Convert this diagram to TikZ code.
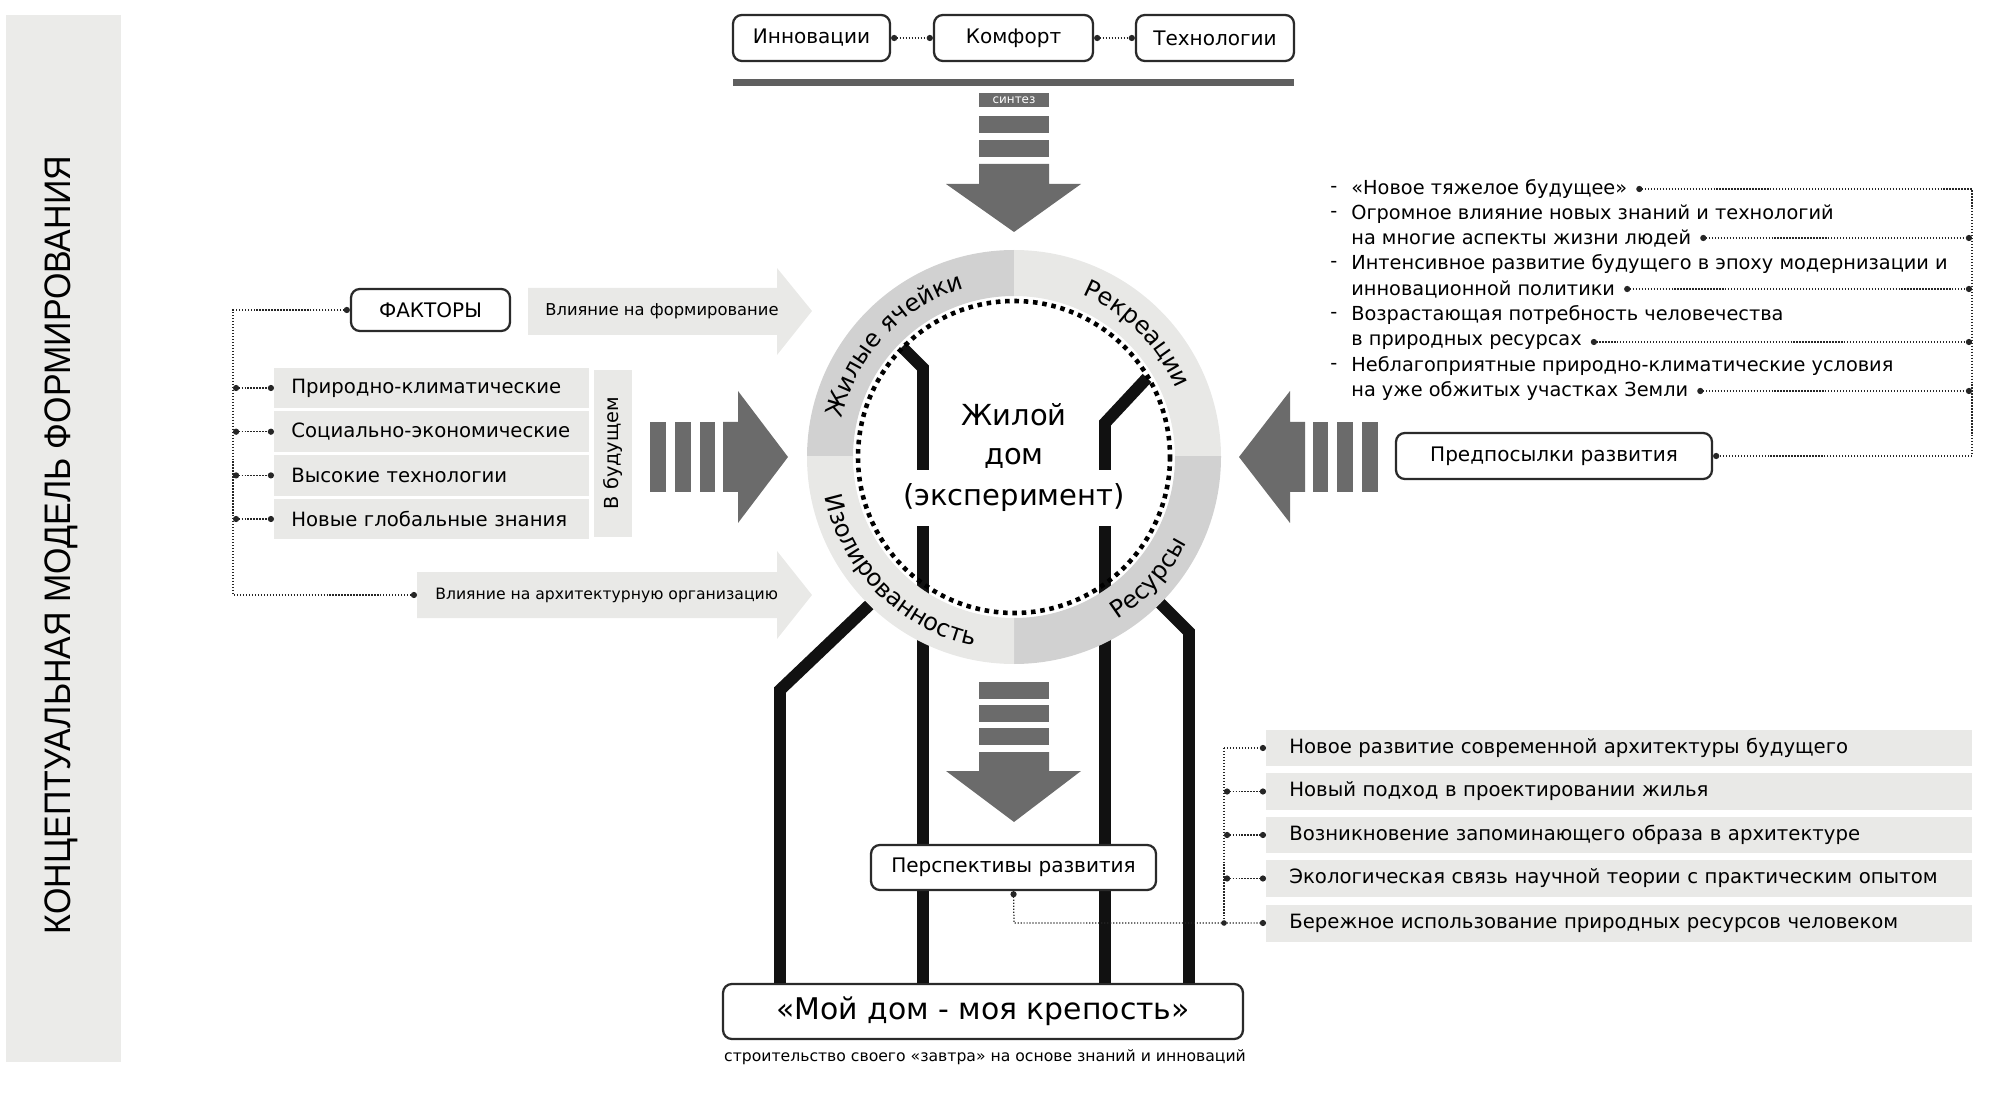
\documentclass[tikz,border=0pt]{standalone}
\usepackage{fontspec}
\setmainfont{DejaVu Sans}
\newfontfamily\narrowfont[FakeStretch=0.92]{Liberation Sans}
\usetikzlibrary{decorations.text,arrows.meta}
\definecolor{sidebg}{HTML}{EBEBE9}
\definecolor{lightbg}{HTML}{E9E9E7}
\definecolor{darkarr}{HTML}{6B6B6B}
\definecolor{topbar}{HTML}{5F5F5F}
\definecolor{ringdark}{HTML}{D1D1D1}
\definecolor{ringlight}{HTML}{E8E8E6}
\definecolor{boxline}{HTML}{2A2A2A}
\definecolor{thickline}{HTML}{111111}
\newcommand\myfs[1]{\fontsize{#1}{#1}\selectfont}
\newcommand\ringf{\myfs{13.7pt}}
\begin{document}
\begin{tikzpicture}[x=0.02cm,y=-0.02cm,
  rbox/.style={draw=boxline, line width=1.3pt, rounded corners=5pt, fill=white, inner sep=0pt, font=\myfs{11.4pt}},
  dotc/.style={draw=black!85, line width=0.7pt, dash pattern=on 0.7pt off 1pt},
  cc/.style={dotc, {Circle[length=3.5pt]}-{Circle[length=3.5pt]}},
  ce/.style={dotc, -{Circle[length=3.5pt]}},
  blk/.style={draw=thickline, line width=6.8pt},
  rowL/.style={fill=lightbg, anchor=west, inner xsep=0.34cm, text width=5.62cm, minimum height=0.82cm, align=left, font=\myfs{11.2pt}},
  rowR/.style={fill=lightbg, anchor=west, inner xsep=0.46cm, text width=13.2cm, minimum height=0.74cm, align=left, font=\myfs{11.2pt}},
  rt/.style={anchor=west, inner sep=0pt, font=\myfs{11pt}},
  ringtext/.style={decorate, decoration={text along path, text align=center, text={|\ringf|#1}}}
]
\useasboundingbox (0,0) rectangle (1999,1111);

% sidebar
\fill[sidebg] (6,15) rectangle (121,1062);
\node[rotate=90, font=\narrowfont\myfs{21pt}] (title) at (61,545) {КОНЦЕПТУАЛЬНАЯ МОДЕЛЬ ФОРМИРОВАНИЯ};

% top boxes
\node[rbox, minimum width=3.14cm, minimum height=0.92cm] (inn) at (811.5,38) {Инновации};
\node[rbox, minimum width=3.18cm, minimum height=0.92cm] (kom) at (1013.5,38) {Комфорт};
\node[rbox, minimum width=3.16cm, minimum height=0.92cm] (tech) at (1215,38) {Технологии};
\draw[cc] (inn.east) -- (kom.west);
\draw[cc] (kom.east) -- (tech.west);
\fill[topbar] (733,79) rectangle (1294,86);

% top arrow
\node[fill=darkarr, text=white, inner sep=0pt, minimum width=1.4cm, minimum height=0.28cm, font=\myfs{6.8pt}] (synt) at (1014,100) {синтез};
\fill[darkarr] (979,116) rectangle (1049,133);
\fill[darkarr] (979,140) rectangle (1049,157);
\fill[darkarr] (979,164) -- (1049,164) -- (1049,184) -- (1081,184) -- (1014,232) -- (946,184) -- (979,184) -- cycle;

% final box and thick black lines (behind ring)
\node[rbox, minimum width=10.4cm, minimum height=1.1cm, font=\myfs{17pt}] (moy) at (983,1011.5) {«Мой дом - моя крепость»};
\node[font=\myfs{8.9pt}, inner sep=0pt] (sub) at (985,1057) {строительство своего «завтра» на основе знаний и инноваций};
\coordinate (li1) at (902,347);
\coordinate (li2) at (1147,378);
\coordinate (lo1) at (885,590);
\coordinate (lo2) at (1150,593);
\draw[blk] (li1) -- (923,368) -- (923,368 |- moy.north);
\draw[blk] (li2) -- (1105,423) -- (1105,423 |- moy.north);
\draw[blk] (lo1) -- (780,690) -- (780,690 |- moy.north);
\draw[blk] (lo2) -- (1189,632) -- (1189,632 |- moy.north);

% ring
\foreach \qx/\qy/\col in {-1/-1/ringdark, 1/-1/ringlight, 1/1/ringdark, -1/1/ringlight}{
  \begin{scope}
    \clip (1014,457) rectangle ++(\qx*215,\qy*215);
    \fill[\col, even odd rule] (1014,457) circle[radius=207] (1014,457) circle[radius=161];
  \end{scope}
}
\draw[line width=2.6pt, dash pattern=on 2.6pt off 2.7pt] (1014,457) circle[radius=156];

\begin{scope}[shift={(1014,457)}, y=0.02cm]
  \path[ringtext={Жилые ячейки}] (182:176) arc (182:92:176);
  \path[ringtext={Рекреации}] (90:176) arc (90:0:176);
  \path[ringtext={Изолированность}] (180:193) arc (180:270:193);
  \path[ringtext={Ресурсы}] (273:193) arc (273:363:193);
\end{scope}

% center text
\node[font=\myfs{16.5pt}] (t1) at (1014,415) {Жилой};
\node[font=\myfs{16.5pt}] (t2) at (1014,458) {дом};
\node[font=\myfs{16.5pt}, fill=white, inner xsep=2pt, minimum height=1.14cm] (t3) at (1014,498) {(эксперимент)};

% bottom arrow
\fill[darkarr] (979,682) rectangle (1049,699);
\fill[darkarr] (979,705) rectangle (1049,722);
\fill[darkarr] (979,728) rectangle (1049,745);
\fill[darkarr] (979,752) -- (1049,752) -- (1049,771) -- (1081,771) -- (1014,822) -- (946,771) -- (979,771) -- cycle;

% perspectives
\node[rbox, minimum width=5.7cm, minimum height=0.9cm] (persp) at (1013.5,867.5) {Перспективы развития};

% left: factors
\fill[lightbg] (528,288) -- (777,288) -- (777,268) -- (812,311) -- (777,355) -- (777,335) -- (528,335) -- cycle;
\node[anchor=west, inner sep=0pt, font=\myfs{9.3pt}] (vf) at (545,311) {Влияние на формирование};
\fill[lightbg] (417,572) -- (777,572) -- (777,551) -- (812,595) -- (777,639) -- (777,618) -- (417,618) -- cycle;
\coordinate (a2s) at (417,595);
\node[anchor=west, inner sep=0pt, font=\myfs{8.9pt}] (va) at (435,595) {Влияние на архитектурную организацию};
\node[rbox, minimum width=3.18cm, minimum height=0.84cm] (fakt) at (430.5,310) {ФАКТОРЫ};

\node[rowL] (f1) at (274,388) {Природно-климатические};
\node[rowL] (f2) at (274,431.7) {Социально-экономические};
\node[rowL] (f3) at (274,475.4) {Высокие технологии};
\node[rowL] (f4) at (274,519) {Новые глобальные знания};
\fill[lightbg] (594,370) rectangle (632,537);
\node[rotate=90, font=\myfs{11pt}] (vb) at (613,453) {В будущем};

\coordinate (lvt) at (233,310);
\coordinate (lvb) at (233,595);
\draw[cc] (fakt.west) -- (lvt) -- (lvb) -- (a2s);
\foreach \r in {f1,f2,f3,f4}{\draw[cc] (\r.west -| lvt) -- (\r.west);}

% left striped arrow
\fill[darkarr] (650,422) rectangle (666,492);
\fill[darkarr] (675,422) rectangle (691,492);
\fill[darkarr] (700,422) rectangle (715,492);
\fill[darkarr] (723,422) -- (738,422) -- (738,391) -- (788,457) -- (738,523) -- (738,492) -- (723,492) -- cycle;

% right striped arrow
\fill[darkarr] (1362,422) rectangle (1378,492);
\fill[darkarr] (1337,422) rectangle (1353,492);
\fill[darkarr] (1313,422) rectangle (1328,492);
\fill[darkarr] (1305,422) -- (1290,422) -- (1290,391) -- (1239,457) -- (1290,523) -- (1290,492) -- (1305,492) -- cycle;

% right: prerequisites
\node[rbox, minimum width=6.32cm, minimum height=0.92cm] (pred) at (1554,456) {Предпосылки развития};
\foreach \yy in {189,214,264,315,366}{\node[rt] at (1330,\yy) {-};}
\node[rt] (a1) at (1351,189) {«Новое тяжелое будущее»};
\node[rt] (a2) at (1351,214) {Огромное влияние новых знаний и технологий};
\node[rt] (a3) at (1351,238) {на многие аспекты жизни людей};
\node[rt] (a4) at (1351,264) {Интенсивное развитие будущего в эпоху модернизации и};
\node[rt] (a5) at (1351,289) {инновационной политики};
\node[rt] (a6) at (1351,315) {Возрастающая потребность человечества};
\node[rt] (a7) at (1351,342) {в природных ресурсах};
\node[rt] (a8) at (1351,366) {Неблагоприятные природно-климатические условия};
\node[rt] (a9) at (1351,391) {на уже обжитых участках Земли};
\coordinate (rvt) at (1972,189);
\coordinate (rvb) at (1972,456);
\draw[cc] ([xshift=5pt]a1.east) -- (rvt) -- (rvb) -- (pred.east);
\foreach \r in {a3,a5,a7,a9}{\draw[cc] ([xshift=5pt]\r.east) -- (\r.east -| rvt);}

% bottom right list
\node[rowR] (p1) at (1266,748) {Новое развитие современной архитектуры будущего};
\node[rowR] (p2) at (1266,791.5) {Новый подход в проектировании жилья};
\node[rowR] (p3) at (1266,835) {Возникновение запоминающего образа в архитектуре};
\node[rowR] (p4) at (1266,878.5) {Экологическая связь научной теории с практическим опытом};
\node[rowR] (p5) at (1266,923) {Бережное использование природных ресурсов человеком};
\coordinate (bvt) at (1224,748);
\coordinate (bvb) at (1224,923);
\draw[ce] (bvt) -- (p1.west);
\draw[dotc] (bvt) -- (bvb);
\foreach \r in {p2,p3,p4}{\draw[cc] (\r.west -| bvt) -- (\r.west);}
\draw[cc] (persp.south) -- (1014,923) -- (p5.west);
\fill[black!85] (bvb) circle (1.6pt);
\end{tikzpicture}
\end{document}
